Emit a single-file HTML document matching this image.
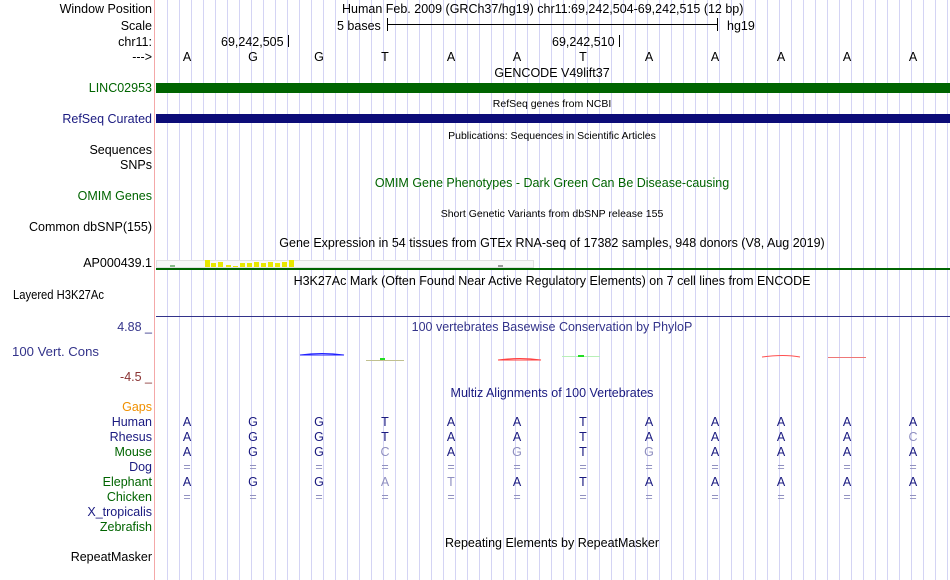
<!DOCTYPE html>
<html><head><meta charset="utf-8"><style>
body{margin:0;background:#fff}
svg{display:block;font-family:"Liberation Sans",sans-serif}
</style></head><body>
<svg width="950" height="580" viewBox="0 0 950 580" xmlns="http://www.w3.org/2000/svg">
<rect width="950" height="580" fill="#fff"/>
<g id="grid" stroke="#d4d4f4" stroke-width="1"></g>
<line x1="154.5" y1="0" x2="154.5" y2="580" stroke="#f4a8a8" stroke-width="1"/>
<g font-size="12.5" text-anchor="end" fill="#000">
<text x="152" y="13">Window Position</text>
<text x="152" y="30">Scale</text>
<text x="152" y="46">chr11:</text>
<text x="152" y="61">---&gt;</text>
<text x="152" y="92" fill="#006400">LINC02953</text>
<text x="152" y="123" fill="#1a1a80">RefSeq Curated</text>
<text x="152" y="154">Sequences</text>
<text x="152" y="169">SNPs</text>
<text x="152" y="200" fill="#006400">OMIM Genes</text>
<text x="152" y="231">Common dbSNP(155)</text>
<text x="152" y="267">AP000439.1</text>
<text x="13" y="299" text-anchor="start" textLength="91" lengthAdjust="spacingAndGlyphs">Layered H3K27Ac</text>
<text x="152" y="331" fill="#33338a">4.88 _</text>
<text x="12" y="356" text-anchor="start" fill="#33338a" textLength="87" lengthAdjust="spacingAndGlyphs">100 Vert. Cons</text>
<text x="152" y="381" fill="#8a3333">-4.5 _</text>
<text x="152" y="411" fill="#f09000">Gaps</text>
<text x="152" y="426" fill="#1a1a80">Human</text>
<text x="152" y="441" fill="#1a1a80">Rhesus</text>
<text x="152" y="456" fill="#006400">Mouse</text>
<text x="152" y="471" fill="#1a1a80">Dog</text>
<text x="152" y="486" fill="#006400">Elephant</text>
<text x="152" y="501" fill="#006400">Chicken</text>
<text x="152" y="516" fill="#1a1a80">X_tropicalis</text>
<text x="152" y="531" fill="#006400">Zebrafish</text>
<text x="152" y="561">RepeatMasker</text>
</g>
<g font-size="12.5" fill="#000">
<text x="342" y="13">Human Feb. 2009 (GRCh37/hg19)   chr11:69,242,504-69,242,515 (12 bp)</text>
<text x="337" y="30">5 bases</text>
<text x="727" y="30">hg19</text>
<text x="221" y="46">69,242,505</text>
<text x="552" y="46">69,242,510</text>
</g>
<g stroke="#000" stroke-width="1">
<line x1="387.5" y1="18" x2="387.5" y2="31"/><line x1="717.5" y1="18" x2="717.5" y2="31"/>
<line x1="387" y1="24.5" x2="718" y2="24.5"/>
<line x1="288.5" y1="35" x2="288.5" y2="47"/><line x1="619.5" y1="35" x2="619.5" y2="47"/>
</g>
<g font-size="12.5" text-anchor="middle" fill="#000">
<text x="187" y="61">A</text><text x="253" y="61">G</text><text x="319" y="61">G</text><text x="385" y="61">T</text><text x="451" y="61">A</text><text x="517" y="61">A</text><text x="583" y="61">T</text><text x="649" y="61">A</text><text x="715" y="61">A</text><text x="781" y="61">A</text><text x="847" y="61">A</text><text x="913" y="61">A</text>
<text x="552" y="77">GENCODE V49lift37</text>
<text x="552" y="247">Gene Expression in 54 tissues from GTEx RNA-seq of 17382 samples, 948 donors (V8, Aug 2019)</text>
<text x="552" y="285">H3K27Ac Mark (Often Found Near Active Regulatory Elements) on 7 cell lines from ENCODE</text>
<text x="552" y="547">Repeating Elements by RepeatMasker</text>
<text x="552" y="187" fill="#006400">OMIM Gene Phenotypes - Dark Green Can Be Disease-causing</text>
<text x="552" y="331" fill="#33338a">100 vertebrates Basewise Conservation by PhyloP</text>
<text x="552" y="397" fill="#1a1a80">Multiz Alignments of 100 Vertebrates</text>
</g>
<g font-size="10.5" text-anchor="middle" fill="#000">
<text x="552" y="107">RefSeq genes from NCBI</text>
<text x="552" y="139">Publications: Sequences in Scientific Articles</text>
<text x="552" y="217">Short Genetic Variants from dbSNP release 155</text>
</g>
<rect x="156" y="83" width="794" height="10" fill="#006400"/>
<rect x="156" y="114" width="794" height="9" fill="#0c0c78"/>
<rect x="156.5" y="260.5" width="377" height="7" fill="#f8f8f8" stroke="#e0e0e0"/>
<rect x="170" y="265" width="5" height="2" fill="#88bb88"/>
<rect x="498" y="265" width="5" height="2" fill="#999"/>
<g fill="#e8e800">
<rect x="205" y="260" width="5" height="7"/><rect x="211" y="263" width="5" height="4"/><rect x="218" y="262" width="5" height="5"/><rect x="226" y="265" width="5" height="2"/><rect x="233" y="266" width="5" height="1"/><rect x="240" y="263" width="5" height="4"/><rect x="247" y="263" width="5" height="4"/><rect x="254" y="262" width="5" height="5"/><rect x="261" y="263" width="5" height="4"/><rect x="268" y="262" width="5" height="5"/><rect x="275" y="263" width="5" height="4"/><rect x="282" y="262" width="5" height="5"/><rect x="289" y="260" width="5" height="7"/>
</g>
<rect x="156" y="268" width="794" height="2" fill="#006400"/>
<rect x="156" y="316" width="794" height="1" fill="#33338a"/>
<g stroke-width="1" fill="none">
<path d="M300 355 Q322 352 344 355 L300 355" stroke="#2020ff"/>
<line x1="366" y1="360.5" x2="404" y2="360.5" stroke="#c0c090"/>
<rect x="380" y="358" width="5" height="2" fill="#22dd22" stroke="none"/>
<path d="M498 360 Q520 357 541 360 L498 360" stroke="#ff4040"/>
<line x1="562" y1="356.5" x2="600" y2="356.5" stroke="#b8f0b8"/>
<rect x="578" y="355" width="6" height="2" fill="#22dd22" stroke="none"/>
<path d="M762 357 Q784 354 800 357" stroke="#ff5050"/>
<line x1="828" y1="357.5" x2="866" y2="357.5" stroke="#ee7777"/>
</g>
<g font-size="12.5" text-anchor="middle" fill="#1a1a80" id="mz"></g>
<script>
(function(){
var ns="http://www.w3.org/2000/svg";
var g=document.getElementById('grid');
for(var x=167.5;x<949;x+=12){var l=document.createElementNS(ns,'line');l.setAttribute('x1',x);l.setAttribute('x2',x);l.setAttribute('y1',0);l.setAttribute('y2',580);g.appendChild(l);}
var rows=[[426,"AGGTAATAAAAA","000000000000"],[441,"AGGTAATAAAAC","000000000001"],[456,"AGGCAGTGAAAA","000101010000"],[471,"============","111111111111"],[486,"AGGATATAAAAA","000110000000"],[501,"============","111111111111"]];
var m=document.getElementById('mz');
rows.forEach(function(r){for(var i=0;i<12;i++){var t=document.createElementNS(ns,'text');t.setAttribute('x',187+66*i);t.setAttribute('y',r[0]);if(r[2][i]=='1')t.setAttribute('fill','#9090c0');t.textContent=r[1][i];m.appendChild(t);}});
})();
</script>
</svg>
</body></html>
